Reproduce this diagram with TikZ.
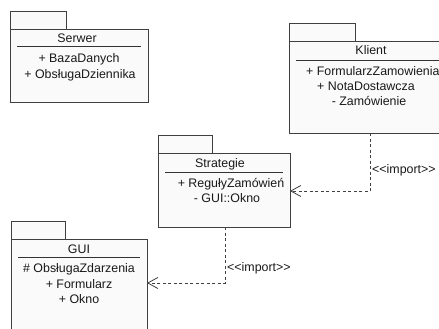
\documentclass[tikz,border=0pt]{standalone}
\usepackage{fontspec}
\setmainfont{Liberation Sans}[Ligatures=NoCommon]
\usetikzlibrary{arrows.meta}
\definecolor{bordc}{HTML}{404040}
\definecolor{fillc}{HTML}{FAFAFA}
\tikzset{
  pkg/.style={draw=bordc, fill=fillc, line width=0.9pt, inner sep=0pt, outer sep=0pt, anchor=north west},
  sep/.style={draw=black!80, line width=0.9pt},
  txt/.style={anchor=base, inner sep=0pt, font=\fontsize{12.4}{14}\selectfont, text=black!90},
  dep/.style={draw=bordc, line width=0.8pt, dash pattern=on 3pt off 2.5pt, -{Straight Barb[length=10pt,width=11pt,line width=0.8pt]}}
}
\begin{document}
\begin{tikzpicture}[x=1pt,y=-1pt]
\useasboundingbox (0,0) rectangle (439,329);
\clip (0,0) rectangle (439,329);
\fill[white] (0,0) rectangle (439,329);
% Serwer
\node[pkg, minimum width=56pt, minimum height=18pt] (serwertab) at (10,11) {};
\node[pkg, minimum width=138pt, minimum height=73pt] (serwer) at (10,29) {};
\node[txt] (serwert) at (77,42.5) {Serwer};
\draw[sep] (17,46.5) -- (141,46.5);
\node[txt] (serwer1) at (79,62.5) {+ BazaDanych};
\node[txt] (serwer2) at (80,78) {+ ObsługaDziennika};
% Klient
\node[pkg, minimum width=66pt, minimum height=18pt] (klienttab) at (289,23) {};
\node[pkg, minimum width=162pt, minimum height=92pt] (klient) at (289,41) {};
\node[txt] (klientt) at (371,55) {Klient};
\draw[sep] (296,60.5) -- (444,60.5);
\node[txt, anchor=base west] (klient1) at (306,75) {+ FormularzZamowienia};
\node[txt] (klient2) at (366,90.5) {+ NotaDostawcza};
\node[txt] (klient3) at (369,106) {- Zamówienie};
% Strategie
\node[pkg, minimum width=54pt, minimum height=18pt] (strategietab) at (158,135) {};
\node[pkg, minimum width=132pt, minimum height=74pt] (strategie) at (158,153) {};
\node[txt] (strategiet) at (220,167) {Strategie};
\draw[sep] (165,172.5) -- (283,172.5);
\node[txt] (strategie1) at (231,187) {+ RegułyZamówień};
\node[txt] (strategie2) at (227,202.5) {- GUI::Okno};
% GUI
\node[pkg, minimum width=54pt, minimum height=18pt] (guitab) at (11,221) {};
\node[pkg, minimum width=136pt, minimum height=110pt] (gui) at (11,239) {};
\node[txt] (guit) at (79,253) {GUI};
\draw[sep] (18,257.5) -- (140,257.5);
\node[txt] (gui1) at (79,272.5) {\# ObsługaZdarzenia};
\node[txt] (gui2) at (79,288) {+ Formularz};
\node[txt] (gui3) at (79,303.5) {+ Okno};
% connectors
\coordinate (j1) at (370,191);
\draw[dep] (klient.south -| j1) -- (j1) -- (strategie.east |- j1);
\node[txt, anchor=base west] (imp1) at (372,173) {{<}{<}import{>}{>}};
\coordinate (j2) at (225,283);
\draw[dep] (strategie.south -| j2) -- (j2) -- (gui.east |- j2);
\node[txt, anchor=base west] (imp2) at (227,271) {{<}{<}import{>}{>}};
\end{tikzpicture}
\end{document}
